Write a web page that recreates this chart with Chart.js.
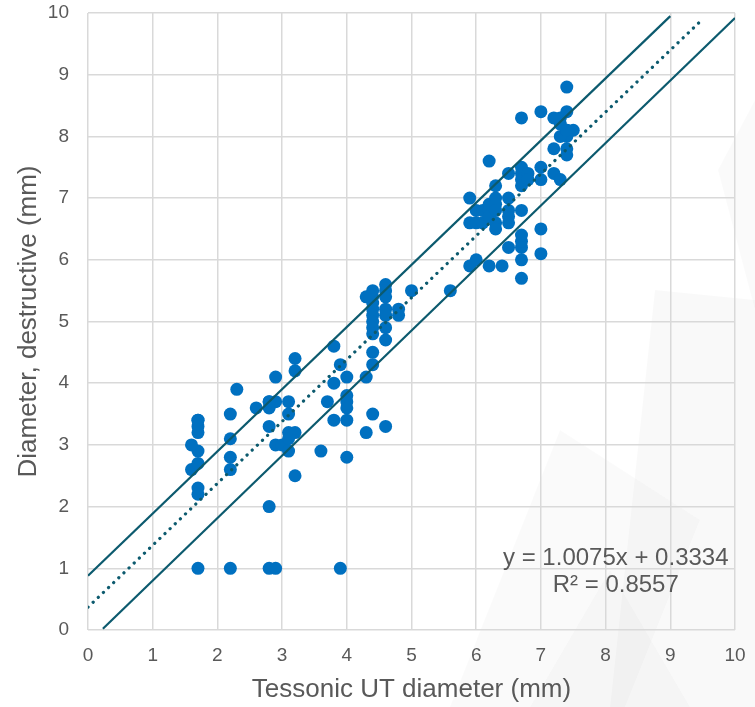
<!DOCTYPE html>
<html>
<head>
<meta charset="utf-8">
<script src="https://cdn.jsdelivr.net/npm/chart.js@4.4.1/dist/chart.umd.min.js"></script>
<style>
  html, body { margin: 0; padding: 0; background: #fff; }
  #wrap { width: 755px; height: 707px; position: relative; }
</style>
</head>
<body>
<div id="wrap"><canvas id="scatterChart"></canvas></div>
<script>
// measured points: Tessonic UT diameter (x) vs destructive diameter (y)
const utX = [
  1.7, 2.2, 2.8, 2.9, 3.9,
  1.7, 1.7, 2.8, 1.6, 2.2, 1.7, 3.2, 1.7, 2.2, 1.6, 1.7,
  2.9, 3.0, 3.1, 3.2, 3.1, 3.1, 3.6, 2.8, 2.2, 4.0,
  1.7, 1.7, 1.7, 2.8, 3.8, 4.0, 2.2, 2.6, 2.8, 2.9, 2.8, 3.1, 3.1, 3.7, 4.0, 4.0, 4.0,
  2.3, 2.9, 3.2, 3.2, 3.8, 3.9, 3.8, 4.0, 4.3, 4.3, 4.4, 4.4, 4.4, 4.6,
  4.4, 4.4, 4.4, 4.4, 4.4, 4.4, 4.4, 4.4, 4.3,
  4.6, 4.6, 4.6, 4.6, 4.6, 4.6, 4.6, 4.8, 4.8, 5.0, 5.6,
  5.9, 6.0, 6.2, 6.4, 6.7, 6.7, 5.9, 7.0, 6.5, 6.7, 6.7, 6.7,
  7.0, 5.9, 6.0, 6.0, 6.1, 6.1, 6.2, 6.2, 6.2, 6.3, 6.3, 6.3, 6.3, 6.3,
  6.5, 6.5, 6.5, 6.5, 6.7, 6.3, 6.2, 6.5, 6.7, 6.7, 6.7, 6.7, 6.8, 6.8,
  7.0, 7.0, 7.2, 7.3, 7.2, 7.4, 7.4, 7.4, 7.3, 7.4, 7.3, 7.4, 7.5, 7.3,
  7.2, 6.7, 7.4, 7.0, 7.4
];
const destY = [
  1.0, 1.0, 1.0, 1.0, 1.0,
  2.2, 2.3, 2.0, 2.6, 2.6, 2.7, 2.5, 2.9, 2.8, 3.0, 3.2,
  3.0, 3.0, 3.2, 3.2, 3.1, 2.9, 2.9, 3.3, 3.1, 2.8,
  3.3, 3.4, 3.4, 3.6, 3.4, 3.4, 3.5, 3.6, 3.7, 3.7, 3.7, 3.7, 3.5, 3.7, 3.8, 3.7, 3.6,
  3.9, 4.1, 4.2, 4.4, 4.6, 4.3, 4.0, 4.1, 4.1, 3.2, 3.5, 4.3, 4.5, 3.3,
  5.5, 5.4, 5.3, 5.2, 5.1, 5.0, 4.9, 4.8, 5.4,
  5.6, 5.5, 5.4, 5.2, 5.1, 4.9, 4.7, 5.2, 5.1, 5.5, 5.5,
  5.9, 6.0, 5.9, 5.9, 5.7, 6.0, 6.6, 6.1, 6.2, 6.2, 6.3, 6.4,
  6.5, 7.0, 6.8, 6.6, 6.8, 6.6, 6.9, 6.8, 6.7, 7.0, 6.9, 6.8, 6.6, 6.5,
  7.0, 6.8, 6.7, 6.6, 6.8, 7.2, 7.6, 7.4, 7.5, 7.4, 7.3, 7.2, 7.4, 7.3,
  7.5, 7.3, 7.4, 7.3, 7.8, 7.8, 7.7, 8.0, 8.0, 8.1, 8.2, 8.4, 8.1, 8.3,
  8.3, 8.3, 8.8, 8.4, 8.1
];

// fitted trend (dotted) and the two bounding lines, endpoints
const trendX = [0, 9.5];
const trendY = [0.37, 9.9];
const upperX = [0, 9];
const upperY = [0.88, 9.95];
const lowerX = [0.23, 10];
const lowerY = [0.02, 9.92];

const axisTicks = [0, 1, 2, 3, 4, 5, 6, 7, 8, 9, 10];
const equationLines = ['y = 1.0075x + 0.3334', 'R\u00b2 = 0.8557'];

const toPoints = (xs, ys) => xs.map((x, i) => ({ x: x, y: ys[i] }));

const lineColor = '#0c5a6e';
const textColor = '#595959';
const fontFamily = '"Liberation Sans", Arial, sans-serif';

// faint grey watermark shapes behind the plot
const watermark = {
    id: 'watermark',
    beforeDraw(chart) {
        const c = chart.ctx;
        const shapes = [
            { pts: [[610, 707], [655, 290], [755, 300], [755, 707]], a: 0.025 },
            { pts: [[450, 707], [560, 430], [700, 520], [625, 707]], a: 0.018 },
            { pts: [[718, 170], [755, 100], [755, 310]], a: 0.02 },
            { pts: [[530, 707], [610, 570], [690, 707]], a: 0.018 }
        ];
        c.save();
        shapes.forEach(s => {
            c.beginPath();
            s.pts.forEach((p, i) => i ? c.lineTo(p[0], p[1]) : c.moveTo(p[0], p[1]));
            c.closePath();
            c.fillStyle = 'rgba(0,0,0,' + s.a + ')';
            c.fill();
        });
        c.restore();
    }
};

const equationLabel = {
    id: 'equationLabel',
    afterDatasetsDraw(chart) {
        const { ctx, scales } = chart;
        const right = scales.x.getPixelForValue(9.9);
        const top = scales.y.getPixelForValue(1.16);
        ctx.save();
        ctx.font = '24px ' + fontFamily;
        ctx.fillStyle = textColor;
        ctx.textBaseline = 'middle';
        const w0 = ctx.measureText(equationLines[0]).width;
        const center = right - w0 / 2;
        ctx.textAlign = 'center';
        ctx.fillText(equationLines[0], center, top);
        ctx.fillText(equationLines[1], center, top + 27);
        ctx.restore();
    }
};

Chart.defaults.font.family = fontFamily;
Chart.defaults.color = textColor;

const ctx = document.getElementById('scatterChart').getContext('2d');
new Chart(ctx, {
    type: 'scatter',
    data: {
        datasets: [
            {
                label: 'Measurements',
                data: toPoints(utX, destY),
                backgroundColor: '#0070c0',
                borderWidth: 0,
                pointRadius: 6.5,
                pointHoverRadius: 6.5,
                order: 2
            },
            {
                type: 'line',
                label: 'Trend',
                data: toPoints(trendX, trendY),
                borderColor: lineColor,
                borderWidth: 3.2,
                borderDash: [0.1, 7],
                borderCapStyle: 'round',
                pointRadius: 0,
                fill: false,
                order: 1
            },
            {
                type: 'line',
                label: 'Upper',
                data: toPoints(upperX, upperY),
                borderColor: lineColor,
                borderWidth: 2.2,
                pointRadius: 0,
                fill: false,
                order: 1
            },
            {
                type: 'line',
                label: 'Lower',
                data: toPoints(lowerX, lowerY),
                borderColor: lineColor,
                borderWidth: 2.2,
                pointRadius: 0,
                fill: false,
                order: 1
            }
        ]
    },
    options: {
        responsive: true,
        maintainAspectRatio: false,
        animation: false,
        layout: { padding: { top: 13, right: 20, left: 0, bottom: 0 } },
        plugins: {
            legend: { display: false },
            tooltip: { enabled: false }
        },
        scales: {
            x: {
                type: 'linear',
                min: 0,
                max: 10,
                afterBuildTicks: s => { s.ticks = axisTicks.map(v => ({ value: v })); },
                ticks: { font: { size: 19 }, padding: 14, color: textColor, maxRotation: 0 },
                grid: { color: '#d9d9d9', lineWidth: 1.5, drawTicks: false },
                border: { display: false },
                title: {
                    display: true,
                    text: 'Tessonic UT diameter (mm)',
                    font: { size: 26 },
                    color: textColor,
                    padding: { top: 4, bottom: 2 }
                },
                afterFit: s => {
                    s.height = 77;
                    s.paddingLeft = 0;
                    s.paddingRight = 0;
                }
            },
            y: {
                type: 'linear',
                min: 0,
                max: 10,
                afterBuildTicks: s => { s.ticks = axisTicks.map(v => ({ value: v })); },
                ticks: { font: { size: 19 }, padding: 19, color: textColor },
                grid: { color: '#d9d9d9', lineWidth: 1.5, drawTicks: false },
                border: { display: false },
                title: {
                    display: true,
                    text: 'Diameter, destructive (mm)',
                    font: { size: 26 },
                    color: textColor,
                    padding: { top: 13, bottom: 4 }
                },
                afterFit: s => {
                    s.width = 88;
                    s.paddingTop = 0;
                    s.paddingBottom = 0;
                }
            }
        }
    },
    plugins: [watermark, equationLabel]
});
</script>
</body>
</html>
